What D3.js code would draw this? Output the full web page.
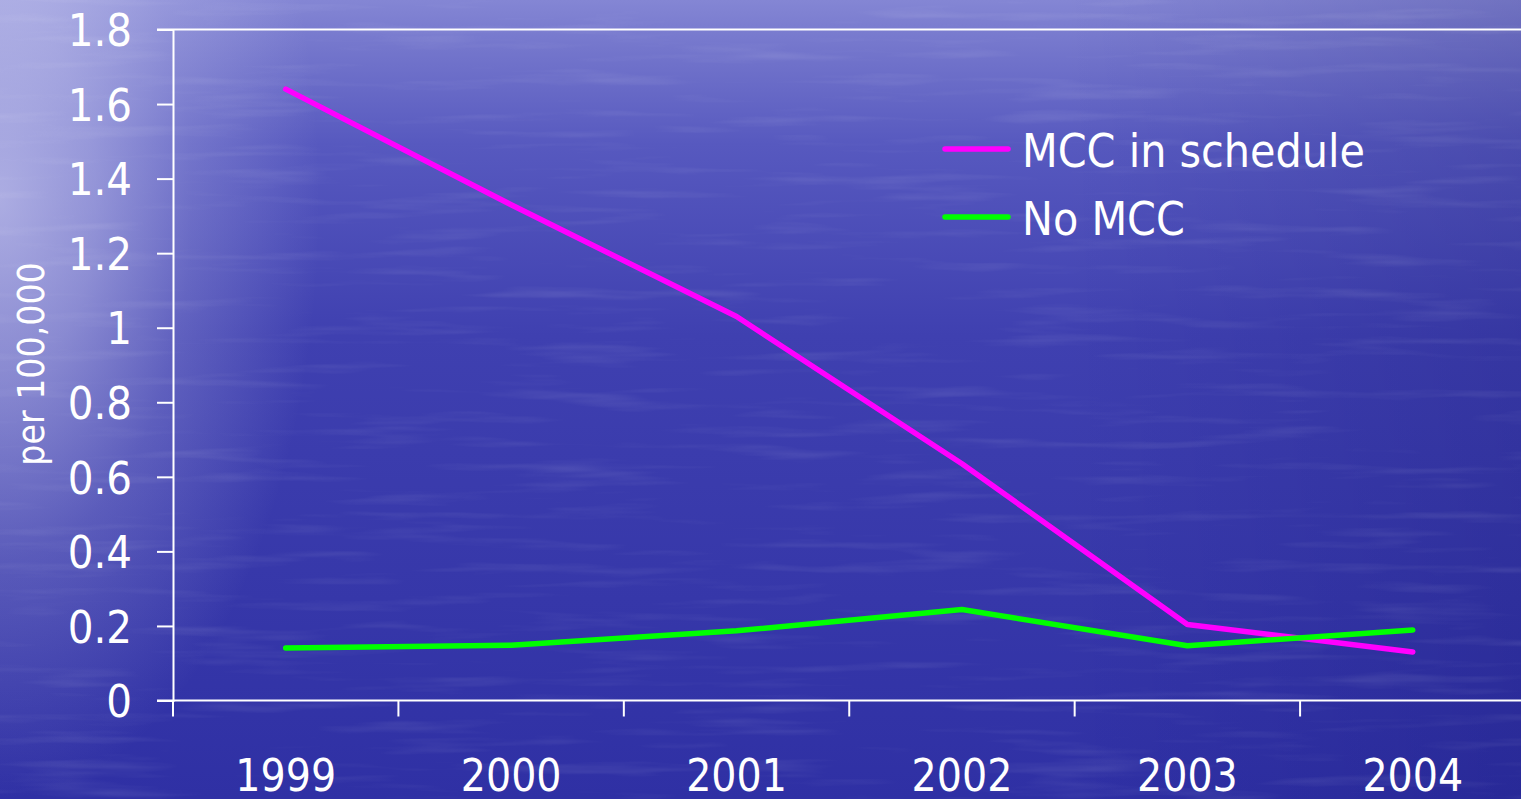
<!DOCTYPE html>
<html>
<head>
<meta charset="utf-8">
<script src="https://cdn.jsdelivr.net/npm/d3@7/dist/d3.min.js"></script>
<style>
  html, body { margin: 0; padding: 0; overflow: hidden; background: #3a3aac; }
  svg { display: block; }
  text { font-family: "DejaVu Sans Condensed", "DejaVu Sans", sans-serif; font-stretch: condensed; fill: #ffffff; }
</style>
</head>
<body>
<svg id="chart" width="1521" height="799"></svg>
<script>
// ---- data ----
const years = ["1999", "2000", "2001", "2002", "2003", "2004"];
const mccInSchedule = [1.64, 1.33, 1.03, 0.635, 0.204, 0.13];
const noMcc = [0.141, 0.148, 0.187, 0.244, 0.147, 0.189];
const yTicks = [0, 0.2, 0.4, 0.6, 0.8, 1, 1.2, 1.4, 1.6, 1.8];
const seriesNames = ["MCC in schedule", "No MCC"];
const seriesColors = ["#ff00ff", "#00ff00"];

const W = 1521, H = 799;
const svg = d3.select("#chart");
const defs = svg.append("defs");

// background: ocean-like gradient
const lg = defs.append("linearGradient").attr("id", "bgV").attr("x1", 0).attr("y1", 0).attr("x2", 0).attr("y2", 1);
[["0%", "#8486d4"], ["6%", "#7476cc"], ["18%", "#5759bf"], ["42%", "#3f40b0"], ["75%", "#3637a9"], ["100%", "#2f30a4"]]
  .forEach(([o, c]) => lg.append("stop").attr("offset", o).attr("stop-color", c));
const lgH = defs.append("linearGradient").attr("id", "bgH").attr("x1", 0).attr("y1", 0).attr("x2", 1).attr("y2", 0);
[["0%", "#000060", 0], ["70%", "#000060", 0], ["100%", "#000050", 0.15]]
  .forEach(([o, c, a]) => lgH.append("stop").attr("offset", o).attr("stop-color", c).attr("stop-opacity", a));
const rg = defs.append("radialGradient").attr("id", "glow")
  .attr("gradientUnits", "userSpaceOnUse").attr("cx", 0).attr("cy", 200).attr("r", 400)
  .attr("gradientTransform", "translate(0,200) scale(0.8,1.5) translate(0,-200)");
[["0%", 0.62], ["30%", 0.45], ["60%", 0.2], ["100%", 0]]
  .forEach(([o, a]) => rg.append("stop").attr("offset", o).attr("stop-color", "#e4e4fa").attr("stop-opacity", a));

const f = defs.append("filter").attr("id", "water").attr("x", 0).attr("y", 0).attr("width", 1).attr("height", 1);
f.append("feTurbulence").attr("type", "fractalNoise").attr("baseFrequency", "0.006 0.08").attr("numOctaves", 3).attr("seed", 7).attr("result", "n");
f.append("feColorMatrix").attr("in", "n").attr("type", "matrix")
  .attr("values", "0 0 0 0 1  0 0 0 0 1  0 0 0 0 1  0 0 0 1.4 -0.75");

svg.append("rect").attr("width", W).attr("height", H).attr("fill", "url(#bgV)");
svg.append("rect").attr("width", W).attr("height", H).attr("fill", "url(#bgH)");
svg.append("rect").attr("width", W).attr("height", H).attr("fill", "url(#glow)");
svg.append("rect").attr("width", W).attr("height", H).attr("filter", "url(#water)").attr("opacity", 0.16);

// ---- scales ----
const x = d3.scaleBand().domain(years).range([173, 1525.5]);
const cx = d => x(d) + x.bandwidth() / 2;
const y = d3.scaleLinear().domain([0, 1.8]).range([700.5, 29.5]);

// top border line of plot area
svg.append("line").attr("x1", 157).attr("x2", W).attr("y1", y(1.8)).attr("y2", y(1.8))
  .attr("stroke", "#fff").attr("stroke-width", 2);

// y axis
const yAxis = svg.append("g").attr("transform", "translate(173,0)")
  .call(d3.axisLeft(y).tickValues(yTicks).tickSize(16).tickPadding(25).tickFormat(d => String(+d.toFixed(1))));
yAxis.select(".domain").attr("stroke", "#fff").attr("stroke-width", 2);
yAxis.selectAll(".tick line").attr("stroke", "#fff").attr("stroke-width", 2);
yAxis.selectAll(".tick text").attr("font-size", 45).attr("fill", "#fff").attr("dy", "0.36em")
  .style("font-family", "'DejaVu Sans Condensed','DejaVu Sans',sans-serif");

// x axis
const xAxis = svg.append("g").attr("transform", `translate(0,${y(0)})`)
  .call(d3.axisBottom(x).tickSize(0).tickPadding(0));
xAxis.select(".domain").attr("stroke", "#fff").attr("stroke-width", 2).attr("d", `M157,0H${W}`);
xAxis.selectAll(".tick text").attr("font-size", 44).attr("fill", "#fff").attr("y", 90).attr("dy", 0)
  .style("font-family", "'DejaVu Sans Condensed','DejaVu Sans',sans-serif");
// category boundary ticks
xAxis.selectAll(".bound").data(years.concat(["end"])).join("line").attr("class", "bound")
  .attr("x1", (d, i) => i < years.length ? x(d) : x(years[years.length - 1]) + x.bandwidth())
  .attr("x2", (d, i) => i < years.length ? x(d) : x(years[years.length - 1]) + x.bandwidth())
  .attr("y1", 0).attr("y2", 16).attr("stroke", "#fff").attr("stroke-width", 2);

// y axis title
svg.append("text").attr("transform", "translate(44,364) rotate(-90)")
  .attr("text-anchor", "middle").attr("font-size", 37).attr("fill", "#f0f0ff")
  .text("per 100,000");

// ---- lines ----
const line = d3.line().x((d, i) => cx(years[i])).y(d => y(d));
[mccInSchedule, noMcc].forEach((vals, k) => {
  svg.append("path").datum(vals).attr("d", line).attr("fill", "none")
    .attr("stroke", seriesColors[k]).attr("stroke-width", 5.5)
    .attr("stroke-linecap", "round").attr("stroke-linejoin", "round");
});

// ---- legend ----
const legend = svg.append("g");
const legY = [149, 217];
seriesNames.forEach((name, k) => {
  legend.append("line").attr("x1", 945).attr("x2", 1008).attr("y1", legY[k]).attr("y2", legY[k])
    .attr("stroke", seriesColors[k]).attr("stroke-width", 5.5).attr("stroke-linecap", "round");
  legend.append("text").attr("x", 1022).attr("y", legY[k] + 18).attr("font-size", 46)
    .attr("fill", "#fff").text(name);
});
</script>
</body>
</html>
